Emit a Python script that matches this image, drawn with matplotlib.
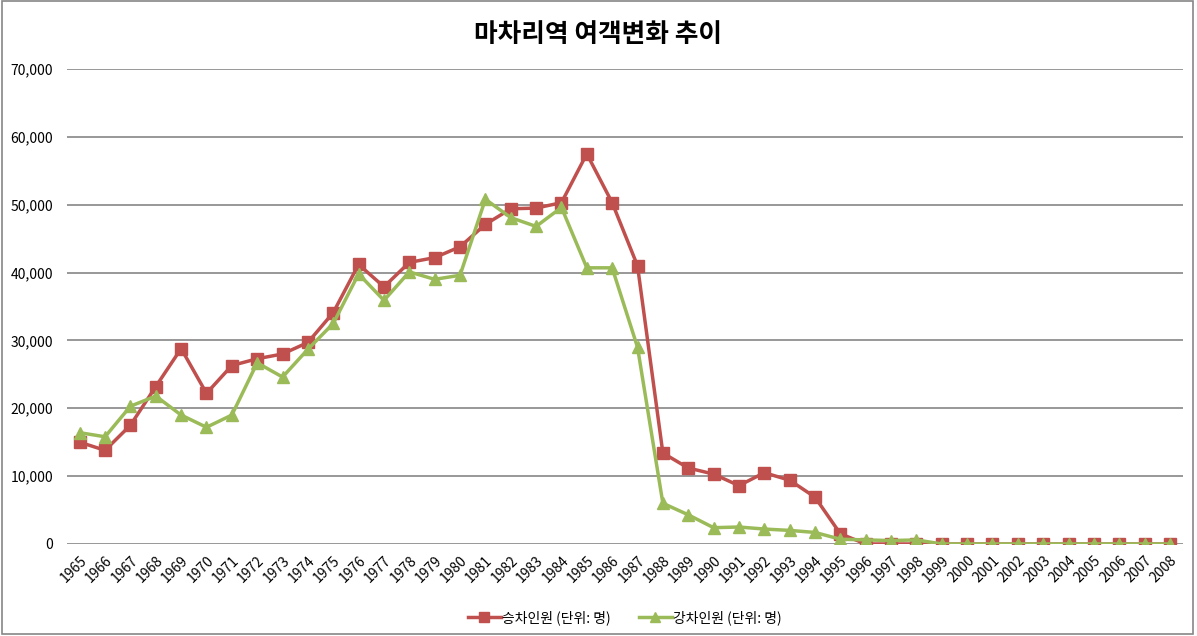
import matplotlib
matplotlib.use("Agg")
import matplotlib.pyplot as plt
from matplotlib.patches import Rectangle
from matplotlib.ticker import FuncFormatter

plt.rcParams['font.family'] = ['Noto Sans CJK KR', 'DejaVu Sans']

years = [str(y) for y in range(1965, 2009)]

# 승차인원 (boarding)
boarding = [15000, 13800, 17500, 23200, 28800, 22200, 26300, 27300, 28000, 29700,
            34100, 41200, 37900, 41500, 42200, 43800, 47100, 49400, 49500, 50300,
            57500, 50300, 41000, 13400, 11200, 10300, 8600, 10500, 9400, 6900,
            1500, 0, 0, 0, 0, 0, 0, 0, 0, 0,
            0, 0, 0, 0]

# 강차인원 (alighting)
alighting = [16400, 15800, 20300, 21800, 19000, 17200, 19000, 26700, 24600, 28700,
             32500, 39800, 35900, 40100, 39000, 39600, 50800, 48100, 46800, 49600,
             40700, 40700, 29000, 6000, 4300, 2400, 2500, 2200, 2000, 1700,
             700, 600, 500, 600, 0, 0, 0, 0, 0, 0,
             0, 0, 0, 0]

title = '마차리역 여객변화 추이'
labels = ['승차인원 (단위: 명)', '강차인원 (단위: 명)']

fig = plt.figure(figsize=(11.97, 6.36), dpi=100)
ax = fig.add_axes([0.056, 0.1447, 0.932, 0.7468])

x = list(range(len(years)))
ax.plot(x, boarding, color='#c0504d', lw=2.5, marker='s', markersize=8,
        label=labels[0], zorder=3)
ax.plot(x, alighting, color='#9bbb59', lw=2.5, marker='^', markersize=8,
        label=labels[1], zorder=4)

ax.set_xlim(-0.5, len(years) - 0.5)
ax.set_ylim(0, 70000)
ax.set_yticks(range(0, 70001, 10000))
ax.yaxis.set_major_formatter(FuncFormatter(lambda v, p: f'{int(v):,}'))
ax.set_xticks(x)
ax.set_xticklabels(years, rotation=45, ha='right', rotation_mode='anchor')
ax.tick_params(axis='both', length=0, labelsize=10)
ax.tick_params(axis='y', pad=10)
ax.tick_params(axis='x', pad=7)
ax.grid(axis='y', color='#868686', lw=1.2)
ax.set_axisbelow(True)
for s in ax.spines.values():
    s.set_visible(False)

fig.text(0.5, 0.945, title, ha='center', va='center', fontsize=18.5, fontweight='bold')

ax.legend(loc='center', bbox_to_anchor=(0.5, -0.155), ncol=2, frameon=False,
          fontsize=10, handlelength=2.4, columnspacing=2.0, handletextpad=0.1,
          markerscale=0.9)

# outer chart border
fig.patches.append(Rectangle((0.002, 0.003), 0.995, 0.995, transform=fig.transFigure,
                             fill=False, edgecolor='#868686', lw=1.2))

fig.savefig('out.png', dpi=100)
